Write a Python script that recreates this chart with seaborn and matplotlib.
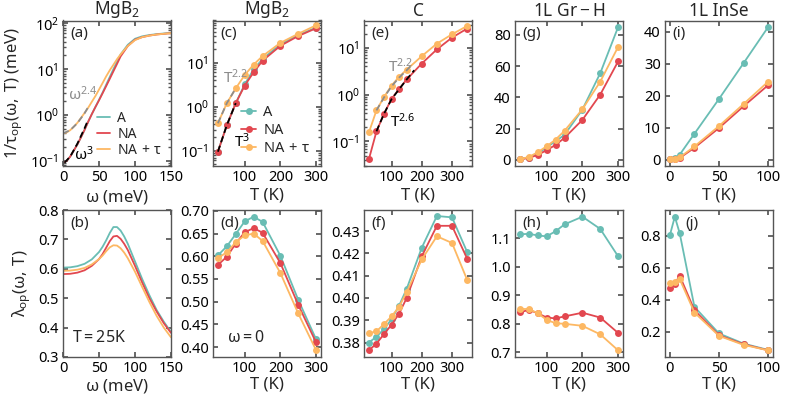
import numpy as np
import pandas as pd
import matplotlib
matplotlib.use("Agg")
import matplotlib.pyplot as plt
import seaborn as sns
from matplotlib.ticker import LogLocator, NullFormatter

# ---------------- data ----------------
labels = ["A", "NA", r"NA$\,+\,\tau$"]
colors = ["#69bdb4", "#e2474f", "#fdb863"]

# (a) MgB2 1/tau vs omega at 25 K
omega_a = [0, 5, 10, 15, 20, 25, 30, 35, 40, 45, 50, 55, 60, 65, 70, 75, 80, 90, 100, 110, 120, 130, 140, 150]
rate_a_A = [0.092, 0.10, 0.125, 0.17, 0.23, 0.33, 0.48, 0.72, 1.05, 1.5, 2.15, 3.1, 4.6, 6.8, 10, 14.5, 21, 34, 46, 52, 55.5, 58, 60, 62]
rate_a_NA = [0.092, 0.10, 0.125, 0.17, 0.23, 0.33, 0.48, 0.72, 1.05, 1.5, 2.1, 3.0, 4.3, 6.2, 9.0, 13, 19, 32, 44, 50, 54, 57, 59, 61]
rate_a_NAt = [0.40, 0.42, 0.47, 0.56, 0.68, 0.87, 1.12, 1.45, 1.95, 2.6, 3.6, 5.0, 7.0, 9.5, 12.5, 16.5, 21, 32, 43, 50, 54, 57, 59, 61]
fit_a_w3_x = [2, 10, 20, 30, 35]
fit_a_w3_y = [0.092, 0.125, 0.24, 0.52, 0.8]
fit_a_w24_x = [0, 10, 20, 30, 35]
fit_a_w24_y = [0.40, 0.47, 0.67, 1.1, 1.5]

# (b) MgB2 lambda vs omega at 25 K
omega_b = [0, 10, 20, 30, 40, 50, 55, 60, 65, 70, 75, 80, 85, 90, 100, 110, 120, 130, 140, 150]
lam_b_A = [0.604, 0.605, 0.609, 0.617, 0.632, 0.657, 0.675, 0.697, 0.722, 0.742, 0.742, 0.73, 0.71, 0.685, 0.625, 0.565, 0.51, 0.46, 0.42, 0.385]
lam_b_NA = [0.582, 0.583, 0.587, 0.595, 0.61, 0.633, 0.65, 0.672, 0.694, 0.71, 0.712, 0.702, 0.685, 0.664, 0.61, 0.553, 0.5, 0.455, 0.415, 0.382]
lam_b_NAt = [0.593, 0.594, 0.597, 0.603, 0.615, 0.633, 0.645, 0.66, 0.673, 0.68, 0.679, 0.67, 0.655, 0.636, 0.59, 0.538, 0.487, 0.44, 0.40, 0.367]

# (c),(d) MgB2 vs T
T_mgb2 = [25, 50, 75, 100, 125, 150, 200, 250, 300]
rate_c_A = [0.095, 0.38, 1.2, 3.2, 7.0, 12, 26, 42, 62]
rate_c_NA = [0.095, 0.38, 1.2, 3.0, 6.0, 11, 24, 40, 60]
rate_c_NAt = [0.42, 1.2, 2.6, 5.2, 9.0, 14, 28, 45, 70]
fit_c_T3_x = [25, 50, 75]
fit_c_T3_y = [0.095, 0.38, 1.2]
fit_c_T22_x = [25, 50, 75]
fit_c_T22_y = [0.42, 1.2, 2.6]
lam_d_A = [0.602, 0.622, 0.649, 0.677, 0.687, 0.676, 0.601, 0.504, 0.417]
lam_d_NA = [0.581, 0.599, 0.628, 0.653, 0.662, 0.652, 0.585, 0.493, 0.410]
lam_d_NAt = [0.596, 0.609, 0.631, 0.646, 0.650, 0.634, 0.563, 0.474, 0.393]

# (e),(f) C vs T
T_c = [25, 50, 75, 100, 125, 150, 200, 250, 300, 350]
rate_e_NA = [0.042, 0.164, 0.39, 0.81, 1.32, 2.1, 4.6, 9.2, 16.4, 25.5]
rate_e_NAt = [0.156, 0.46, 0.89, 1.56, 2.4, 3.4, 6.6, 12.2, 19.3, 29]
fit_e_T26_x = [50, 75, 100, 125, 150, 175]
fit_e_T26_y = [0.165, 0.39, 0.8, 1.3, 2.1, 3.3]
fit_e_T22_x = [50, 75, 100, 125, 150, 170]
fit_e_T22_y = [0.46, 0.87, 1.5, 2.3, 3.3, 4.5]
lam_f_A = [0.380, 0.3826, 0.386, 0.3905, 0.3966, 0.4041, 0.4226, 0.4368, 0.4362, 0.4207]
lam_f_NA = [0.3765, 0.3795, 0.3838, 0.388, 0.393, 0.400, 0.4187, 0.4324, 0.4324, 0.4177]
lam_f_NAt = [0.3842, 0.385, 0.3883, 0.3917, 0.3961, 0.4026, 0.4173, 0.4277, 0.4247, 0.4082]

# (g),(h) 1L Gr-H vs T
T_grh = [25, 50, 75, 100, 125, 150, 200, 250, 300]
rate_g_A = [0.5, 1.5, 4.0, 8.0, 12, 16, 32.2, 55.5, 85]
rate_g_NA = [0.3, 1.2, 3.2, 6.2, 9.6, 14.1, 25.6, 41.8, 63]
rate_g_NAt = [0.5, 1.8, 4.9, 8.7, 13, 18.6, 32.4, 50.1, 72.3]
lam_h_A = [1.113, 1.115, 1.109, 1.106, 1.124, 1.148, 1.175, 1.132, 1.036]
lam_h_NA = [0.839, 0.848, 0.836, 0.821, 0.818, 0.825, 0.838, 0.821, 0.767]
lam_h_NAt = [0.851, 0.851, 0.836, 0.813, 0.801, 0.799, 0.792, 0.762, 0.706]

# (i),(j) 1L InSe vs T
T_inse = [0, 5, 10, 25, 50, 75, 100]
rate_i_A = [0.1, 0.4, 1.55, 8.1, 19.0, 30.2, 41.5]
rate_i_NA = [0.05, 0.2, 0.5, 3.7, 9.9, 16.7, 23.3]
rate_i_NAt = [0.1, 0.3, 0.7, 4.1, 10.5, 17.4, 24.4]
lam_j_A = [0.804, 0.919, 0.815, 0.356, 0.19, 0.127, 0.0875]
lam_j_NA = [0.473, 0.502, 0.55, 0.335, 0.179, 0.123, 0.085]
lam_j_NAt = [0.504, 0.512, 0.529, 0.321, 0.175, 0.119, 0.085]

titles = [r"MgB$_2$", r"MgB$_2$", "C", r"1L $\mathrm{Gr-H}$", "1L InSe"]
top_tags = ["(a)", "(c)", "(e)", "(g)", "(i)"]
bot_tags = ["(b)", "(d)", "(f)", "(h)", "(j)"]

# ---------------- style ----------------
sns.set_theme(style="ticks")
plt.rcParams.update({
    "font.family": ["Noto Sans", "DejaVu Sans"],
    "mathtext.fontset": "custom",
    "mathtext.rm": "Noto Sans",
    "mathtext.it": "Noto Sans",
    "mathtext.bf": "Noto Sans:bold",
    "mathtext.sf": "Noto Sans",
    "axes.edgecolor": "#555555",
    "axes.linewidth": 1.0,
    "xtick.color": "#555555",
    "ytick.color": "#555555",
    "xtick.labelcolor": "black",
    "ytick.labelcolor": "black",
    "xtick.direction": "in",
    "ytick.direction": "in",
    "xtick.top": True,
    "ytick.right": True,
    "xtick.labelsize": 10.5,
    "ytick.labelsize": 10.5,
    "axes.labelsize": 12,
    "axes.titlesize": 12.5,
    "xtick.major.size": 3.5,
    "ytick.major.size": 3.5,
    "xtick.minor.size": 2,
    "ytick.minor.size": 2,
    "xtick.major.pad": 3,
    "ytick.major.pad": 3,
})

fig = plt.figure(figsize=(7.89, 3.95), dpi=100)
lefts = [63, 213, 364, 515, 665]
W = 108 / 789
row1 = (1 - 166 / 395, (166 - 20.5) / 395)
row2 = (1 - 357 / 395, (357 - 210) / 395)
axes_top = [fig.add_axes([l / 789, row1[0], W, row1[1]]) for l in lefts]
axes_bot = [fig.add_axes([l / 789, row2[0], W, row2[1]]) for l in lefts]

LW = 1.3
MS = 5


def series(ax, x, ys, cols=colors, labs=labels, marker="o", legend=False):
    for y, c, lab in zip(ys, cols, labs):
        kw = dict(marker=marker, markersize=MS, markeredgewidth=0, markeredgecolor=c) if marker else {}
        sns.lineplot(x=x, y=y, color=c, linewidth=LW, ax=ax,
                     label=lab if legend else None, legend=False, **kw)


def dashed(ax, x, y, color):
    sns.lineplot(x=x, y=y, color=color, linewidth=1.3, ax=ax, legend=False,
                 linestyle=(0, (3.5, 2.0)))


# (a)
ax = axes_top[0]
series(ax, omega_a, [rate_a_A, rate_a_NA, rate_a_NAt], marker=None, legend=True)
dashed(ax, fit_a_w24_x, fit_a_w24_y, "#8c8c8c")
dashed(ax, fit_a_w3_x, fit_a_w3_y, "black")
ax.set_yscale("log")
ax.set_xlim(0, 150)
ax.set_ylim(0.078, 115)
ax.set_xticks([0, 50, 100, 150])
ax.set_xlabel(r"$\omega$ (meV)")
ax.set_ylabel(r"$1/\tau_{\mathrm{op}}(\omega,\,\mathrm{T})$ (meV)")
ax.text(0.05, 0.49, r"$\omega^{2.4}$", transform=ax.transAxes, color="#8c8c8c", fontsize=11, va="center")
ax.text(0.10, 0.075, r"$\omega^{3}$", transform=ax.transAxes, color="black", fontsize=11, va="center")
h, l = ax.get_legend_handles_labels()
ax.legend(h[:3], l[:3], loc="lower right", bbox_to_anchor=(1.0, 0.0), frameon=False,
          fontsize=10, handlelength=1.0, handletextpad=0.5, labelspacing=0.05,
          borderaxespad=0.2)

# (c)
ax = axes_top[1]
series(ax, T_mgb2, [rate_c_A, rate_c_NA, rate_c_NAt], legend=True)
dashed(ax, fit_c_T22_x, fit_c_T22_y, "#8c8c8c")
dashed(ax, fit_c_T3_x, fit_c_T3_y, "black")
ax.set_yscale("log")
ax.set_ylim(0.045, 90)
ax.text(0.09, 0.61, r"$\mathrm{T}^{2.2}$", transform=ax.transAxes, color="#8c8c8c", fontsize=11, va="center")
ax.text(0.19, 0.17, r"$\mathrm{T}^{3}$", transform=ax.transAxes, color="black", fontsize=11, va="center")
h, l = ax.get_legend_handles_labels()
ax.legend(h[:3], l[:3], loc="lower right", frameon=False, fontsize=10.5, handlelength=1.0,
          handletextpad=0.5, labelspacing=0.2, borderaxespad=0.3)

# (e)
ax = axes_top[2]
series(ax, T_c, [rate_e_NA, rate_e_NAt], cols=colors[1:], labs=labels[1:])
dashed(ax, fit_e_T22_x, fit_e_T22_y, "#8c8c8c")
dashed(ax, fit_e_T26_x, fit_e_T26_y, "black")
ax.set_yscale("log")
ax.set_ylim(0.03, 38)
ax.text(0.22, 0.685, r"$\mathrm{T}^{2.2}$", transform=ax.transAxes, color="#8c8c8c", fontsize=11, va="center")
ax.text(0.24, 0.305, r"$\mathrm{T}^{2.6}$", transform=ax.transAxes, color="black", fontsize=11, va="center")

# (g)
ax = axes_top[3]
series(ax, T_grh, [rate_g_A, rate_g_NA, rate_g_NAt])
ax.set_yticks([0, 20, 40, 60, 80])

# (i)
ax = axes_top[4]
series(ax, T_inse, [rate_i_A, rate_i_NA, rate_i_NAt])
ax.set_yticks([0, 10, 20, 30, 40])

# (b)
ax = axes_bot[0]
series(ax, omega_b, [lam_b_A, lam_b_NA, lam_b_NAt], marker=None)
ax.set_xlim(0, 150)
ax.set_ylim(0.3, 0.8)
ax.set_xticks([0, 50, 100, 150])
ax.set_xlabel(r"$\omega$ (meV)")
ax.set_ylabel(r"$\lambda_{\mathrm{op}}(\omega,\,\mathrm{T})$")
ax.text(0.08, 0.13, r"$\mathrm{T = 25K}$", transform=ax.transAxes, fontsize=11.5, va="center")

# (d)
ax = axes_bot[1]
series(ax, T_mgb2, [lam_d_A, lam_d_NA, lam_d_NAt])
ax.set_ylim(0.378, 0.702)
ax.set_yticks([0.40, 0.45, 0.50, 0.55, 0.60, 0.65, 0.70])
ax.text(0.13, 0.13, r"$\omega = 0$", transform=ax.transAxes, fontsize=11.5, va="center")

# (f)
ax = axes_bot[2]
series(ax, T_c, [lam_f_A, lam_f_NA, lam_f_NAt])
ax.set_ylim(0.3735, 0.4395)
ax.set_yticks([0.38, 0.39, 0.40, 0.41, 0.42, 0.43])

# (h)
ax = axes_bot[3]
series(ax, T_grh, [lam_h_A, lam_h_NA, lam_h_NAt])
ax.set_yticks([0.7, 0.8, 0.9, 1.0, 1.1])

# (j)
ax = axes_bot[4]
series(ax, T_inse, [lam_j_A, lam_j_NA, lam_j_NAt])
ax.set_yticks([0.2, 0.4, 0.6, 0.8])

# common formatting
for i, (at, ab) in enumerate(zip(axes_top, axes_bot)):
    at.set_title(titles[i], pad=3)
    for ax, tag in ((at, top_tags[i]), (ab, bot_tags[i])):
        xpos = 0.19 if tag == "(j)" else 0.07
        ax.text(xpos, 0.91, tag, transform=ax.transAxes, fontsize=11, va="center", ha="left")
        if i > 0:
            ax.set_xlabel("T (K)")
            ax.set_ylabel("")
        if i in (1, 2, 3):
            ax.set_xticks([100, 200, 300])
        if i == 4:
            ax.set_xticks([0, 50, 100])
    at.xaxis.labelpad = 2
    ab.xaxis.labelpad = 0.5

axes_top[1].set_xlim(11.25, 313.75)
axes_bot[1].set_xlim(11.25, 313.75)
axes_top[2].set_xlim(8.75, 366.25)
axes_bot[2].set_xlim(8.75, 366.25)

for ax in axes_top[:3]:
    ax.yaxis.set_minor_locator(LogLocator(base=10, subs=np.arange(2, 10) * 0.1 * 10 / 10, numticks=20))
    ax.yaxis.set_minor_formatter(NullFormatter())
for ax in axes_top + axes_bot:
    ax.tick_params(which="both", direction="in", top=True, right=True)

fig.savefig("out.png", dpi=100)
